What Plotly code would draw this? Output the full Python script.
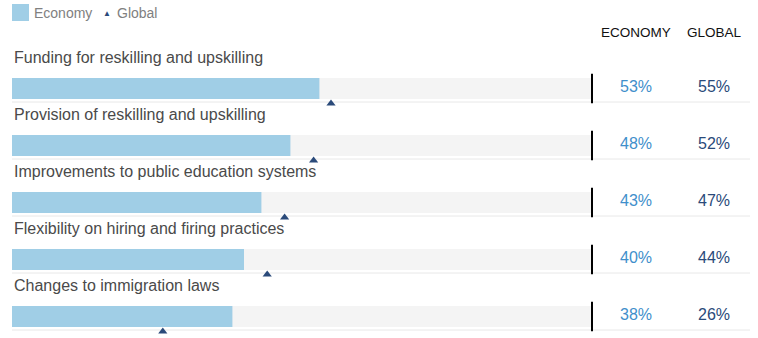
import plotly.graph_objects as go

categories = [
    "Funding for reskilling and upskilling",
    "Provision of reskilling and upskilling",
    "Improvements to public education systems",
    "Flexibility on hiring and firing practices",
    "Changes to immigration laws",
]
economy = [53, 48, 43, 40, 38]
global_ = [55, 52, 47, 44, 26]
full_scale = [100] * len(categories)

W, H = 758, 338
PX_PER_UNIT = 5.8
X0_PX = 12
ROW_PX = 57
ROW0_PX = 88.5
BAR_PX = 21

rows = list(range(len(categories)))

ECON_BAR = "#a0cee6"
BG_BAR = "#f4f4f4"
NAVY = "#2a4a7a"
ECON_TXT = "#3f8fcb"
LABEL = "#4a4a4a"
FONT = "Liberation Sans, Arial, Helvetica, sans-serif"

bw = BAR_PX / ROW_PX
tri_off = 15 / ROW_PX
sep_off = 13.5 / ROW_PX

fig = go.Figure()
fig.add_trace(go.Bar(x=full_scale, y=rows, orientation="h", width=bw,
                     marker=dict(color=BG_BAR, line=dict(width=0)),
                     hoverinfo="skip", showlegend=False))
fig.add_trace(go.Bar(x=economy, y=rows, orientation="h", width=bw,
                     marker=dict(color=ECON_BAR, line=dict(width=0)),
                     name="Economy", showlegend=False))
fig.add_trace(go.Scatter(x=full_scale, y=rows, mode="markers",
                         marker=dict(symbol="line-ns", size=BAR_PX,
                                     line=dict(color="black", width=2)),
                         hoverinfo="skip", showlegend=False))
fig.add_trace(go.Scatter(x=global_, y=[r + tri_off for r in rows], mode="markers",
                         marker=dict(symbol="triangle-up", size=8, color=NAVY),
                         name="Global", showlegend=False))

shapes = []
annotations = []
for r, cat, e, g in zip(rows, categories, economy, global_):
    shapes.append(dict(type="line", xref="paper", yref="y",
                       x0=12 / W, x1=750 / W, y0=r + sep_off, y1=r + sep_off,
                       line=dict(color="#e8e8e8", width=1), layer="below"))
    annotations.append(dict(x=0, y=r, xref="x", yref="y", text=cat,
                            showarrow=False, xanchor="left", yanchor="middle",
                            yshift=31, font=dict(size=16, color=LABEL, family=FONT)))
    annotations.append(dict(x=636 / W, y=r, xref="paper", yref="y", text=f"{e}%",
                            showarrow=False, xanchor="center", yanchor="middle",
                            yshift=2, font=dict(size=16, color=ECON_TXT, family=FONT)))
    annotations.append(dict(x=714 / W, y=r, xref="paper", yref="y", text=f"{g}%",
                            showarrow=False, xanchor="center", yanchor="middle",
                            yshift=2, font=dict(size=16, color=NAVY, family=FONT)))

# headers
for txt, xp in [("ECONOMY", 636), ("GLOBAL", 714)]:
    annotations.append(dict(x=xp / W, y=1 - 32 / H, xref="paper", yref="paper",
                            text=txt, showarrow=False, xanchor="center",
                            yanchor="middle",
                            font=dict(size=13.5, color="#111111", family=FONT)))

# legend
shapes.append(dict(type="rect", xref="paper", yref="paper",
                   x0=12 / W, x1=29 / W, y0=1 - 21 / H, y1=1 - 4 / H,
                   fillcolor=ECON_BAR, line=dict(width=0)))
annotations.append(dict(x=32 / W, y=1 - 13 / H, xref="paper", yref="paper",
                        text="Economy", showarrow=False, xanchor="left",
                        yanchor="middle", font=dict(size=14, color="#808080", family=FONT)))
annotations.append(dict(x=107 / W, y=1 - 14 / H, xref="paper", yref="paper",
                        text="▲", showarrow=False, xanchor="center",
                        yanchor="middle", font=dict(size=8, color=NAVY, family=FONT)))
annotations.append(dict(x=115 / W, y=1 - 13 / H, xref="paper", yref="paper",
                        text="Global", showarrow=False, xanchor="left",
                        yanchor="middle", font=dict(size=14, color="#808080", family=FONT)))

fig.update_layout(
    width=W, height=H, margin=dict(l=0, r=0, t=0, b=0),
    paper_bgcolor="white", plot_bgcolor="white",
    barmode="overlay", showlegend=False,
    xaxis=dict(range=[-X0_PX / PX_PER_UNIT, (W - X0_PX) / PX_PER_UNIT],
               visible=False, fixedrange=True),
    yaxis=dict(range=[(H - ROW0_PX) / ROW_PX, -ROW0_PX / ROW_PX],
               visible=False, fixedrange=True),
    shapes=shapes, annotations=annotations,
    font=dict(family=FONT),
)

fig.write_html("out.html", config={"displayModeBar": False},
               post_script="document.body.style.margin='0';document.body.style.overflow='hidden';")
